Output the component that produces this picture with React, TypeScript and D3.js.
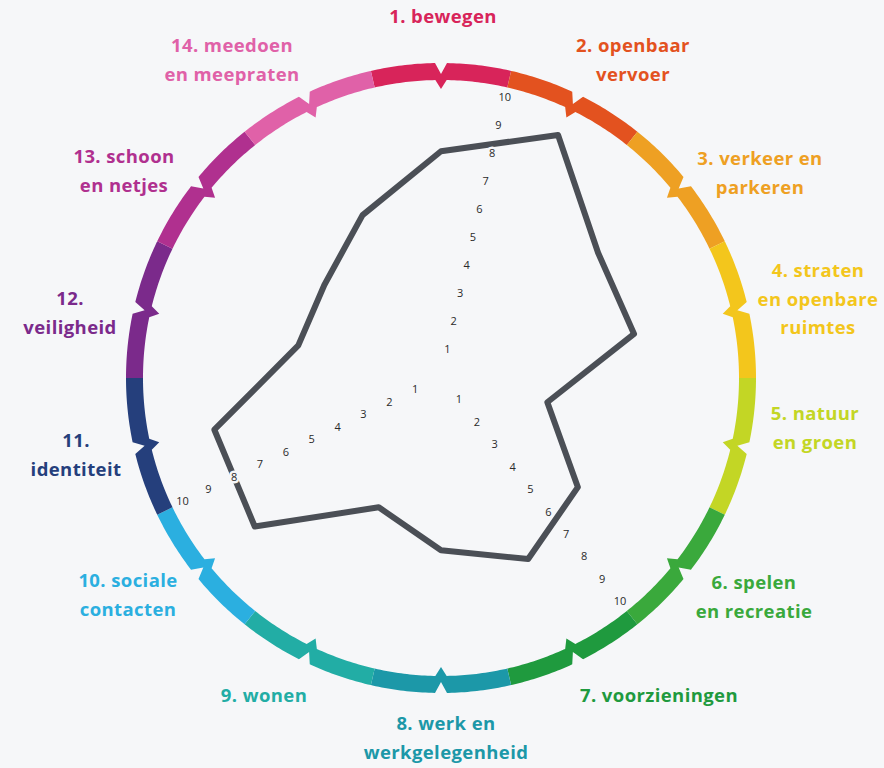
import React from 'react'
import * as d3 from 'd3'

// 14 themes, clockwise from the top
const categories = [
  '1. bewegen', '2. openbaar vervoer', '3. verkeer en parkeren',
  '4. straten en openbare ruimtes', '5. natuur en groen', '6. spelen en recreatie',
  '7. voorzieningen', '8. werk en werkgelegenheid', '9. wonen',
  '10. sociale contacten', '11. identiteit', '12. veiligheid',
  '13. schoon en netjes', '14. meedoen en meepraten'
]

// how the labels break over lines
const labelLines = [
  ['1. bewegen'],
  ['2. openbaar', 'vervoer'],
  ['3. verkeer en', 'parkeren'],
  ['4. straten', 'en openbare', 'ruimtes'],
  ['5. natuur', 'en groen'],
  ['6. spelen', 'en recreatie'],
  ['7. voorzieningen'],
  ['8. werk en', 'werkgelegenheid'],
  ['9. wonen'],
  ['10. sociale', 'contacten'],
  ['11.', 'identiteit'],
  ['12.', 'veiligheid'],
  ['13. schoon', 'en netjes'],
  ['14. meedoen', 'en meepraten']
]

const colors = [
  '#d8245a', '#e3521f', '#eea023', '#f3c61c', '#c3d625', '#3aa93c', '#1f9a3e',
  '#1c98a8', '#22ada5', '#2bafe0', '#253f7c', '#7b2a8b', '#b0308f', '#e061a8'
]

const scores = [7.9, 9.4, 7.0, 6.9, 3.8, 6.1, 7.0, 6.0, 5.0, 8.3, 8.1, 5.1, 5.2, 6.3]

const scaleTicks = [1, 2, 3, 4, 5, 6, 7, 8, 9, 10]
// the three scales sit on the borders after these themes
const axisAfter = [0, 5, 9]

const width = 884
const height = 768
const cx = 441
const cy = 378
const rOuter = 315
const rInner = 298
const bg = '#f6f7f9'

// label anchors (centre of the first line)
const labelPos = [
  [443, 18], [633, 47], [760, 160], [818, 272], [815, 415], [754, 584], [659, 697],
  [446, 725], [264, 697], [128, 582], [76, 442], [70, 300], [124, 158], [232, 47]
]

const step = (2 * Math.PI) / categories.length
const r = d3.scaleLinear().domain([0, 10]).range([0, 287])

const polar = (a: number, rad: number): [number, number] =>
  [cx + rad * Math.sin(a), cy - rad * Math.cos(a)]

// ring piece with a chevron notch in the middle
function segmentPath(i: number) {
  const mid = i * step
  const a0 = mid - step / 2
  const a1 = mid + step / 2
  const nw = 6 / rOuter
  const pts: [number, number][] = []
  d3.range(a0, mid - nw, 0.01).forEach(a => pts.push(polar(a, rOuter)))
  pts.push(polar(mid - nw, rOuter))
  pts.push(polar(mid, rOuter - 11))
  d3.range(mid + nw, a1, 0.01).forEach(a => pts.push(polar(a, rOuter)))
  pts.push(polar(a1, rOuter))
  d3.range(a1, mid + nw, -0.01).forEach(a => pts.push(polar(a, rInner)))
  pts.push(polar(mid + nw, rInner))
  pts.push(polar(mid, rInner - 9))
  d3.range(mid - nw, a0, -0.01).forEach(a => pts.push(polar(a, rInner)))
  pts.push(polar(a0, rInner))
  return d3.line()(pts) + 'Z'
}

export default function App() {
  const shape = d3.lineRadial<number>()
    .angle((d, i) => i * step)
    .radius(d => r(d))
    .curve(d3.curveLinearClosed)

  return (
    <svg width={width} height={height}
      style={{ position: 'absolute', left: 0, top: 0, fontFamily: '"Open Sans", sans-serif' }}>
      <rect width={width} height={height} fill={bg} />

      {categories.map((c, i) => (
        <path key={c} d={segmentPath(i)} fill={colors[i]} />
      ))}

      {categories.map((c, i) => (
        <text key={c} x={labelPos[i][0]} y={labelPos[i][1]} fill={colors[i]}
          fontSize={18.5} fontWeight={700} letterSpacing={0.4}
          textAnchor='middle' dominantBaseline='middle'>
          {labelLines[i].map((line, j) => (
            <tspan key={j} x={labelPos[i][0]} dy={j === 0 ? 0 : 28.5}>{line}</tspan>
          ))}
        </text>
      ))}

      <path d={shape(scores) ?? ''} transform={`translate(${cx},${cy})`}
        fill='none' stroke='#4b4f56' strokeWidth={6} strokeLinejoin='round' />

      {axisAfter.map(k => {
        const a = k * step + step / 2
        return (
          <g key={k}>
            {scaleTicks.map(t => {
              const [x, y] = polar(a, r(t))
              return (
                <text key={t} x={x} y={y} fontSize={11} fill='#2a2a2a'
                  stroke={bg} strokeWidth={5} paintOrder='stroke'
                  textAnchor='middle' dominantBaseline='middle'>{t}</text>
              )
            })}
          </g>
        )
      })}
    </svg>
  )
}
